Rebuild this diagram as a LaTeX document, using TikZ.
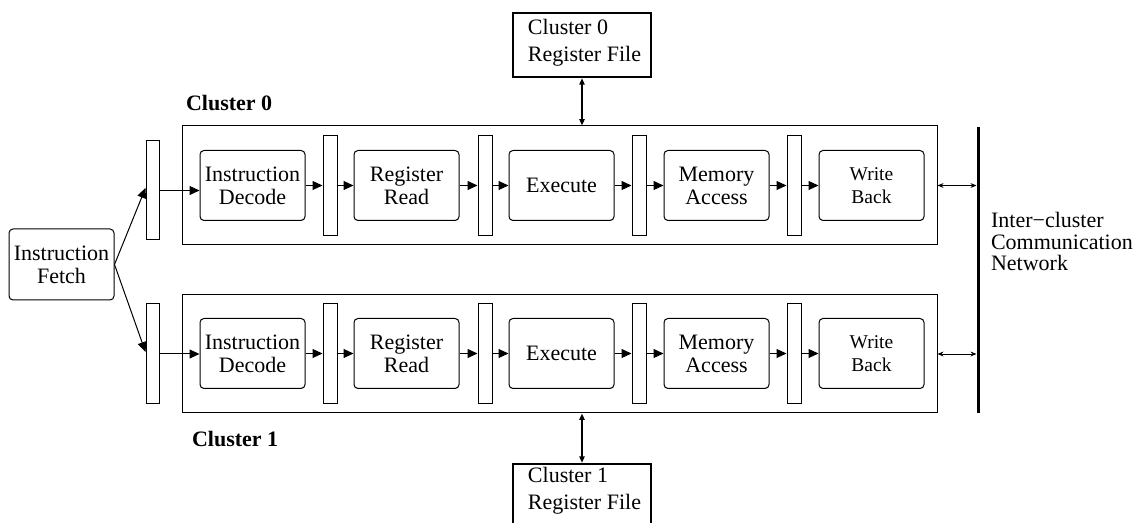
\documentclass[tikz,border=0pt]{standalone}
\usepackage{fontspec}
\setmainfont{Liberation Serif}
\usetikzlibrary{arrows.meta,calc}

\begin{document}
\begin{tikzpicture}[x=0.5pt,y=-0.5pt,
  font=\fontsize{11}{11.5}\selectfont,
  thinline/.style={line width=0.5pt},
  stage/.style={draw, thinline, rounded corners=2pt, minimum width=52.5pt,
    minimum height=35pt, inner sep=0pt, align=center},
  latch/.style={draw, thinline, minimum width=7pt, minimum height=50pt, inner sep=0pt},
  cluster/.style={draw, thinline, minimum width=377.5pt, inner sep=0pt},
  rfframe/.style={draw, line width=1.2pt, minimum width=69pt, minimum height=32pt, inner sep=0pt},
  rftext/.style={align=left, inner sep=0pt, font=\fontsize{11}{13.3}\selectfont},
  flow/.style={thinline, -{Triangle[length=5pt,width=4.5pt]}},
  rflink/.style={line width=1pt, {Triangle[length=3.2pt,width=2.6pt]}-{Triangle[length=3.2pt,width=2.6pt]}},
  netlink/.style={line width=0.4pt, {Stealth[length=3pt,width=2.4pt]}-{Stealth[length=3pt,width=2.4pt]}},
  title/.style={anchor=west, font=\fontsize{11}{11.5}\selectfont\bfseries},
  small/.style={font=\fontsize{9.75}{11.5}\selectfont}
]
\useasboundingbox (0,0) rectangle (1137,523);

% cluster frames
\node[cluster, minimum height=59.5pt] (c0) at (559.5,185.5) {};
\node[cluster, minimum height=59pt]   (c1) at (559.5,354) {};
\node[title] (t0) at (179,103) {Cluster 0};
\node[title] (t1) at (185,439) {Cluster 1};

% instruction fetch
\node[stage, minimum height=35.5pt] (fetch) at (61.5,264.5) {Instruction\\Fetch};

% pipeline latches in front of each cluster
\node[latch, minimum width=6.5pt, minimum height=49.5pt] (l00) at (152.5,190.5) {};
\node[latch, minimum width=6.5pt] (l10) at (152.5,354) {};

% cluster 0 pipeline
\node[stage] (id0) at (252.5,185.5) {Instruction\\Decode};
\node[latch] (l01) at (330,186) {};
\node[stage] (rr0) at (406.5,185.5) {Register\\Read};
\node[latch] (l02) at (485,186) {};
\node[stage] (ex0) at (561.5,185.5) {Execute};
\node[latch] (l03) at (639,186) {};
\node[stage] (ma0) at (716.5,185.5) {Memory\\Access};
\node[latch] (l04) at (794,186) {};
\node[stage, small] (wb0) at (871.5,185.5) {Write\\Back};

% cluster 1 pipeline
\node[stage] (id1) at (252.5,353.5) {Instruction\\Decode};
\node[latch] (l11) at (330,354) {};
\node[stage] (rr1) at (406.5,353.5) {Register\\Read};
\node[latch] (l12) at (485,354) {};
\node[stage] (ex1) at (561.5,353.5) {Execute};
\node[latch] (l13) at (639,354) {};
\node[stage] (ma1) at (716.5,353.5) {Memory\\Access};
\node[latch] (l14) at (794,354) {};
\node[stage, small] (wb1) at (871.5,353.5) {Write\\Back};

% fetch to both clusters
\draw[flow] (fetch.east) -- ($(l00.west)+(0,-2.5)$);
\draw[flow] (fetch.east) -- ($(l10.west)+(0,-2)$);
\draw[flow] (l00.east) -- (l00.east -| id0.west);
\draw[flow] (l10.east) -- (l10.east -| id1.west);

% stage-to-latch-to-stage flow
\foreach \c in {0,1}{
  \draw[flow] (id\c.east) -- (id\c.east -| l\c1.west);
  \draw[flow] (l\c1.east |- rr\c.west) -- (rr\c.west);
  \draw[flow] (rr\c.east) -- (rr\c.east -| l\c2.west);
  \draw[flow] (l\c2.east |- ex\c.west) -- (ex\c.west);
  \draw[flow] (ex\c.east) -- (ex\c.east -| l\c3.west);
  \draw[flow] (l\c3.east |- ma\c.west) -- (ma\c.west);
  \draw[flow] (ma\c.east) -- (ma\c.east -| l\c4.west);
  \draw[flow] (l\c4.east |- wb\c.west) -- (wb\c.west);
}

% register files
\node[rfframe] (rf0) at (582,45) {};
\node[rftext] (rf0text) at (584.5,42.5) {Cluster 0\\Register File};
\node[rfframe, minimum height=36pt] (rf1) at (582,500) {};
\node[rftext] (rf1text) at (584.5,491) {Cluster 1\\Register File};
\draw[rflink] (rf0.south) -- (rf0.south |- c0.north);
\draw[rflink] (rf1.north |- c1.south) -- (rf1.north);

% inter-cluster network
\coordinate (ntop) at (978,127);
\coordinate (nbot) at (978,413);
\draw[line width=1.5pt] (ntop) -- (nbot);
\draw[netlink, shorten >=0.75pt] (c0.east) -- (c0.east -| ntop);
\draw[netlink, shorten >=0.75pt] (c1.east) -- (c1.east -| ntop);
\node[anchor=west, align=left, font=\fontsize{11}{10.75}\selectfont] (net) at (984,241.5)
  {Inter−cluster\\Communication\\Network};
\end{tikzpicture}
\end{document}
